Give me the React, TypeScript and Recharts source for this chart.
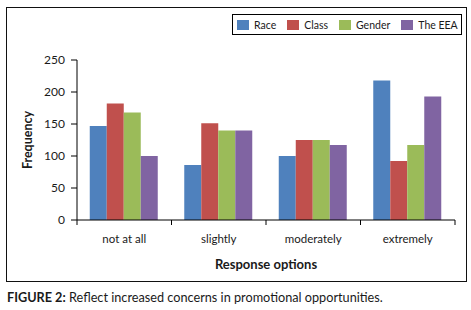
import React from "react";
import { BarChart, Bar, XAxis, YAxis, Legend } from "recharts";

const categories = ["not at all", "slightly", "moderately", "extremely"];
const race = [147, 86, 100, 218];
const classVals = [182, 151, 125, 92];
const gender = [168, 140, 125, 117];
const theEEA = [100, 140, 117, 193];
const yTicks = [0, 50, 100, 150, 200, 250];

const seriesNames = ["Race", "Class", "Gender", "The EEA"];
const seriesKeys = ["race", "class", "gender", "eea"];
const colors = ["#4F81BD", "#C0504D", "#9BBB59", "#8064A2"];

const data = categories.map((c, i) => ({
  name: c,
  race: race[i],
  class: classVals[i],
  gender: gender[i],
  eea: theEEA[i],
}));

const FONT = "Lato, 'Open Sans', sans-serif";
const W = 471;
const H = 290;
const M = { top: 60, right: 16, left: 0, bottom: 0 };
const YW = 77;
const XH = 70;
const plotW = W - M.left - M.right - YW;
const bw = plotW / categories.length;
const axisY = H - M.bottom - XH;

const XTick = (props: any) => {
  const { x, payload, index } = props;
  const cx = payload.coordinate ?? x;
  return (
    <g>
      <line x1={cx - bw / 2} x2={cx - bw / 2} y1={axisY} y2={axisY + 5} stroke="#000" strokeWidth={1} />
      {index === categories.length - 1 && (
        <line x1={cx + bw / 2} x2={cx + bw / 2} y1={axisY} y2={axisY + 5} stroke="#000" strokeWidth={1} />
      )}
      <text x={cx} y={axisY + 23} textAnchor="middle" fontSize={11.5} fill="#1a1a1a" fontFamily={FONT}>
        {payload.value}
      </text>
    </g>
  );
};

const LegendContent = () => (
  <div
    style={{
      border: "1px solid #000",
      width: 228,
      height: 19,
      display: "flex",
      alignItems: "center",
      fontFamily: FONT,
      fontSize: 10.5,
      color: "#1a1a1a",
      boxSizing: "content-box",
    }}
  >
    {seriesNames.map((n, i) => (
      <div key={n} style={{ display: "flex", alignItems: "center", marginLeft: i === 0 ? 4 : 11 }}>
        <div style={{ width: 12, height: 10, background: colors[i], marginRight: 5 }} />
        <span>{n}</span>
      </div>
    ))}
  </div>
);

export default function App() {
  return (
    <div style={{ position: "absolute", left: 0, top: 0, width: 471, height: 310, background: "#fff" }}>
      <div
        style={{
          position: "absolute",
          left: 6,
          top: 7,
          width: 459,
          height: 273,
          border: "1.5px solid #111",
        }}
      />
      <div style={{ position: "absolute", left: 0, top: 0 }}>
        <BarChart
          width={W}
          height={H}
          data={data}
          margin={M}
          barCategoryGap="13.5%"
          barGap={0}
          style={{ fontFamily: FONT }}
        >
          <XAxis
            dataKey="name"
            height={XH}
            axisLine={{ stroke: "#000", strokeWidth: 1 }}
            tickLine={false}
            tick={<XTick />}
            interval={0}
            label={{
              value: "Response options",
              position: "insideBottom",
              offset: 21,
              fontSize: 13,
              fontWeight: 700,
              fill: "#1a1a1a",
              fontFamily: FONT,
            }}
          />
          <YAxis
            width={YW}
            domain={[0, 250]}
            ticks={yTicks}
            interval={0}
            tickSize={6}
            tickMargin={6}
            axisLine={{ stroke: "#000", strokeWidth: 1 }}
            tickLine={{ stroke: "#000", strokeWidth: 1 }}
            tick={{ fontSize: 12, fill: "#1a1a1a", fontFamily: FONT }}
            label={{
              value: "Frequency",
              angle: -90,
              position: "insideLeft",
              offset: 28,
              style: { textAnchor: "middle" },
              fontSize: 12.5,
              fontWeight: 700,
              fill: "#1a1a1a",
              fontFamily: FONT,
            }}
          />
          <Legend
            layout="horizontal"
            verticalAlign="middle"
            align="center"
            content={<LegendContent />}
            wrapperStyle={{ position: "absolute", left: 232, top: 14, width: 232, height: 21 }}
          />
          {seriesKeys.map((k, i) => (
            <Bar key={k} dataKey={k} name={seriesNames[i]} fill={colors[i]} isAnimationActive={false} />
          ))}
        </BarChart>
      </div>
      <div
        style={{
          position: "absolute",
          left: 7,
          top: 289,
          fontFamily: FONT,
          fontSize: 12.7,
          color: "#1a1a1a",
          whiteSpace: "nowrap",
        }}
      >
        <b>FIGURE 2:</b> Reflect increased concerns in promotional opportunities.
      </div>
    </div>
  );
}
